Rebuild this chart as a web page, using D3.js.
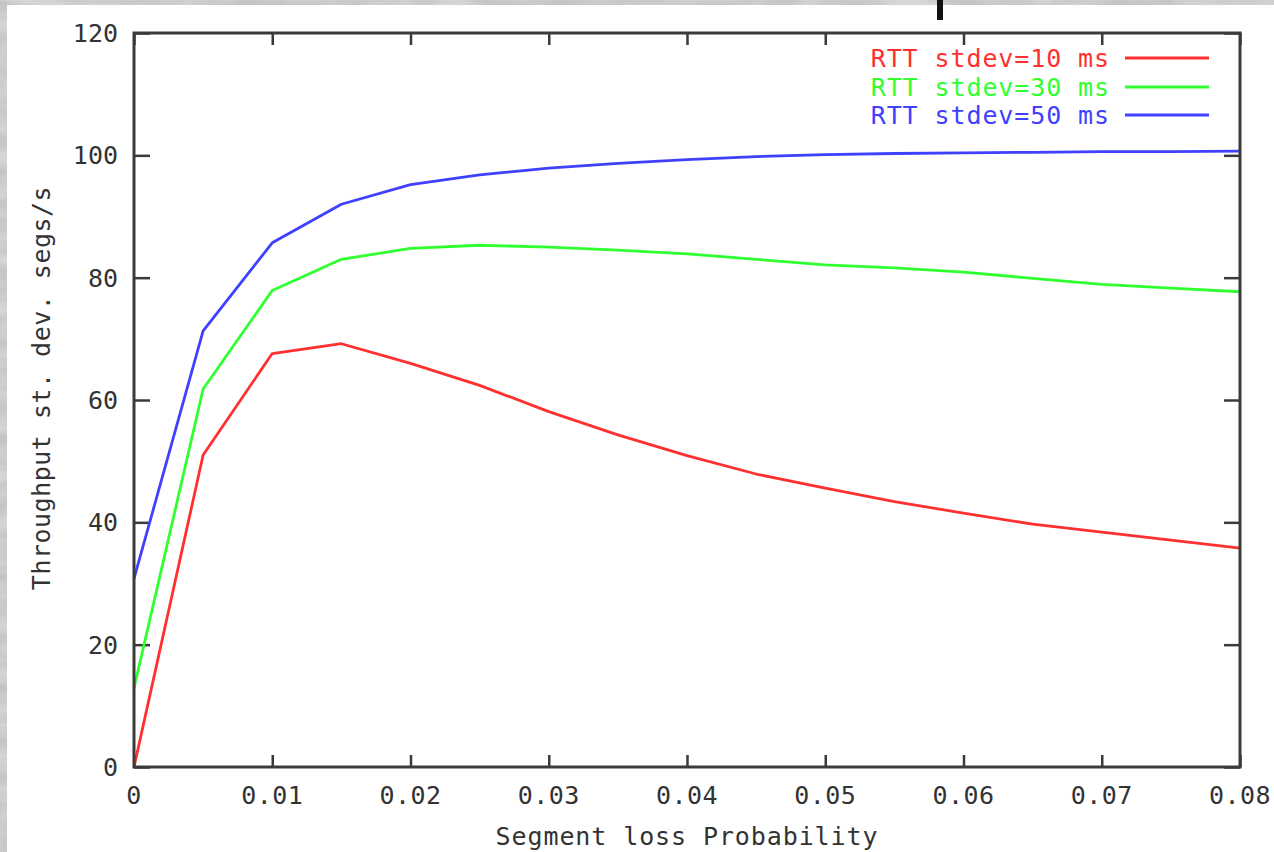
<!DOCTYPE html>
<html>
<head>
<meta charset="utf-8">
<script src="https://cdn.jsdelivr.net/npm/d3@7"></script>
<style>
  html, body { margin: 0; padding: 0; background: #cfcfcf; }
  svg { display: block; }
  text { font-family: "DejaVu Sans Mono", "Liberation Mono", monospace; }
</style>
</head>
<body>
<svg id="chart" width="1274" height="852"></svg>
<script>
// Segment loss probability (x values)
const lossProb = [0, 0.005, 0.01, 0.015, 0.02, 0.025, 0.03, 0.035, 0.04,
                  0.045, 0.05, 0.055, 0.06, 0.065, 0.07, 0.075, 0.08];

// Throughput standard deviation, segs/s, one array per RTT stdev
const stdev10 = [0, 51.0, 67.6, 69.2, 66.0, 62.4, 58.1, 54.3, 50.9,
                 47.9, 45.6, 43.4, 41.5, 39.7, 38.4, 37.1, 35.8];
const stdev30 = [12.9, 61.8, 77.9, 83.0, 84.8, 85.3, 85.0, 84.5, 83.9,
                 83.0, 82.1, 81.6, 80.9, 79.9, 78.9, 78.3, 77.7];
const stdev50 = [30.8, 71.3, 85.7, 92.0, 95.2, 96.8, 97.9, 98.7, 99.3,
                 99.8, 100.1, 100.3, 100.4, 100.5, 100.6, 100.6, 100.7];

const seriesNames = ["RTT stdev=10 ms", "RTT stdev=30 ms", "RTT stdev=50 ms"];
const seriesColors = ["#ff3030", "#30ff30", "#4040ff"];

const xTicks = [0, 0.01, 0.02, 0.03, 0.04, 0.05, 0.06, 0.07, 0.08];
const xTickLabels = ["0", "0.01", "0.02", "0.03", "0.04", "0.05", "0.06", "0.07", "0.08"];
const yTicks = [0, 20, 40, 60, 80, 100, 120];

const xTitle = "Segment loss Probability";
const yTitle = "Throughput st. dev. segs/s";

const svg = d3.select("#chart");
const W = 1274, H = 852;
const plot = { left: 134, right: 1240, top: 33, bottom: 767 };

// textured grey backdrop
const defs = svg.append("defs");
const f = defs.append("filter").attr("id", "marble")
  .attr("x", 0).attr("y", 0).attr("width", "100%").attr("height", "100%");
f.append("feTurbulence").attr("type", "fractalNoise")
  .attr("baseFrequency", "0.015 0.06").attr("numOctaves", 4).attr("seed", 7);
f.append("feColorMatrix").attr("type", "matrix")
  .attr("values", "0 0 0 0 0.55  0 0 0 0 0.55  0 0 0 0 0.55  0 0 0 -2.2 1.6");
svg.append("rect").attr("width", W).attr("height", H).attr("fill", "#d6d6d6");
svg.append("rect").attr("width", W).attr("height", H).attr("filter", "url(#marble)");

// white page
svg.append("rect").attr("x", 7).attr("y", 5).attr("width", W - 7).attr("height", H - 5)
  .attr("fill", "#ffffff");

// fragment of a heading stroke above the page
svg.append("rect").attr("x", 937).attr("y", 0).attr("width", 6).attr("height", 20)
  .attr("fill", "#111");

const x = d3.scaleLinear().domain([0, 0.08]).range([plot.left, plot.right]);
const y = d3.scaleLinear().domain([0, 120]).range([plot.bottom, plot.top]);

const axisColor = "#3a3a3a";
const labelColor = "#333";

// inward tick marks on all four sides
const xTickLen = 12, yTickLen = 16;
const bottomAxis = d3.axisBottom(x).tickValues(xTicks).tickSize(-xTickLen).tickFormat("");
const topAxis = d3.axisTop(x).tickValues(xTicks).tickSize(-xTickLen).tickFormat("");
const leftAxis = d3.axisLeft(y).tickValues(yTicks).tickSize(-yTickLen).tickFormat("");
const rightAxis = d3.axisRight(y).tickValues(yTicks).tickSize(-yTickLen).tickFormat("");

function styleAxis(g) {
  g.select(".domain").remove();
  g.selectAll(".tick line").attr("stroke", axisColor).attr("stroke-width", 2.5);
}
svg.append("g").attr("transform", `translate(0,${plot.bottom})`).call(bottomAxis).call(styleAxis);
svg.append("g").attr("transform", `translate(0,${plot.top})`).call(topAxis).call(styleAxis);
svg.append("g").attr("transform", `translate(${plot.left},0)`).call(leftAxis).call(styleAxis);
svg.append("g").attr("transform", `translate(${plot.right},0)`).call(rightAxis).call(styleAxis);

// tick labels
svg.append("g").selectAll("text").data(xTicks).join("text")
  .attr("x", d => x(d)).attr("y", 804)
  .attr("text-anchor", "middle")
  .attr("font-size", 25).attr("letter-spacing", 0.5)
  .attr("fill", labelColor)
  .text((d, i) => xTickLabels[i]);

svg.append("g").selectAll("text").data(yTicks).join("text")
  .attr("x", 118).attr("y", d => y(d) + 9)
  .attr("text-anchor", "end")
  .attr("font-size", 25).attr("letter-spacing", 0)
  .attr("fill", labelColor)
  .text(d => d);

// axis titles
svg.append("text").attr("x", (plot.left + plot.right) / 2).attr("y", 845)
  .attr("text-anchor", "middle").attr("font-size", 25).attr("letter-spacing", 0.9)
  .attr("fill", labelColor).text(xTitle);

svg.append("text")
  .attr("transform", `translate(50,${(plot.top + plot.bottom) / 2 - 12}) rotate(-90)`)
  .attr("text-anchor", "middle").attr("font-size", 25).attr("letter-spacing", 0.5)
  .attr("fill", labelColor).text(yTitle);

// data lines
const seriesData = [stdev10, stdev30, stdev50];
const line = d3.line().x((d, i) => x(lossProb[i])).y(d => y(d));
const plotG = svg.append("g");
seriesData.forEach((vals, k) => {
  plotG.append("path").datum(vals)
    .attr("fill", "none")
    .attr("stroke", seriesColors[k])
    .attr("stroke-width", 2.8)
    .attr("stroke-linejoin", "round")
    .attr("d", line);
});

// border
svg.append("rect")
  .attr("x", plot.left).attr("y", plot.top)
  .attr("width", plot.right - plot.left).attr("height", plot.bottom - plot.top)
  .attr("fill", "none").attr("stroke", axisColor).attr("stroke-width", 3);

// legend
const legendRows = [58, 87, 115];
const legend = svg.append("g");
seriesNames.forEach((name, k) => {
  legend.append("text")
    .attr("x", 1110).attr("y", legendRows[k] + 9)
    .attr("text-anchor", "end").attr("font-size", 25).attr("letter-spacing", 0.9)
    .attr("fill", seriesColors[k]).text(name);
  legend.append("line")
    .attr("x1", 1125).attr("x2", 1209)
    .attr("y1", legendRows[k]).attr("y2", legendRows[k])
    .attr("stroke", seriesColors[k]).attr("stroke-width", 3);
});
</script>
</body>
</html>
